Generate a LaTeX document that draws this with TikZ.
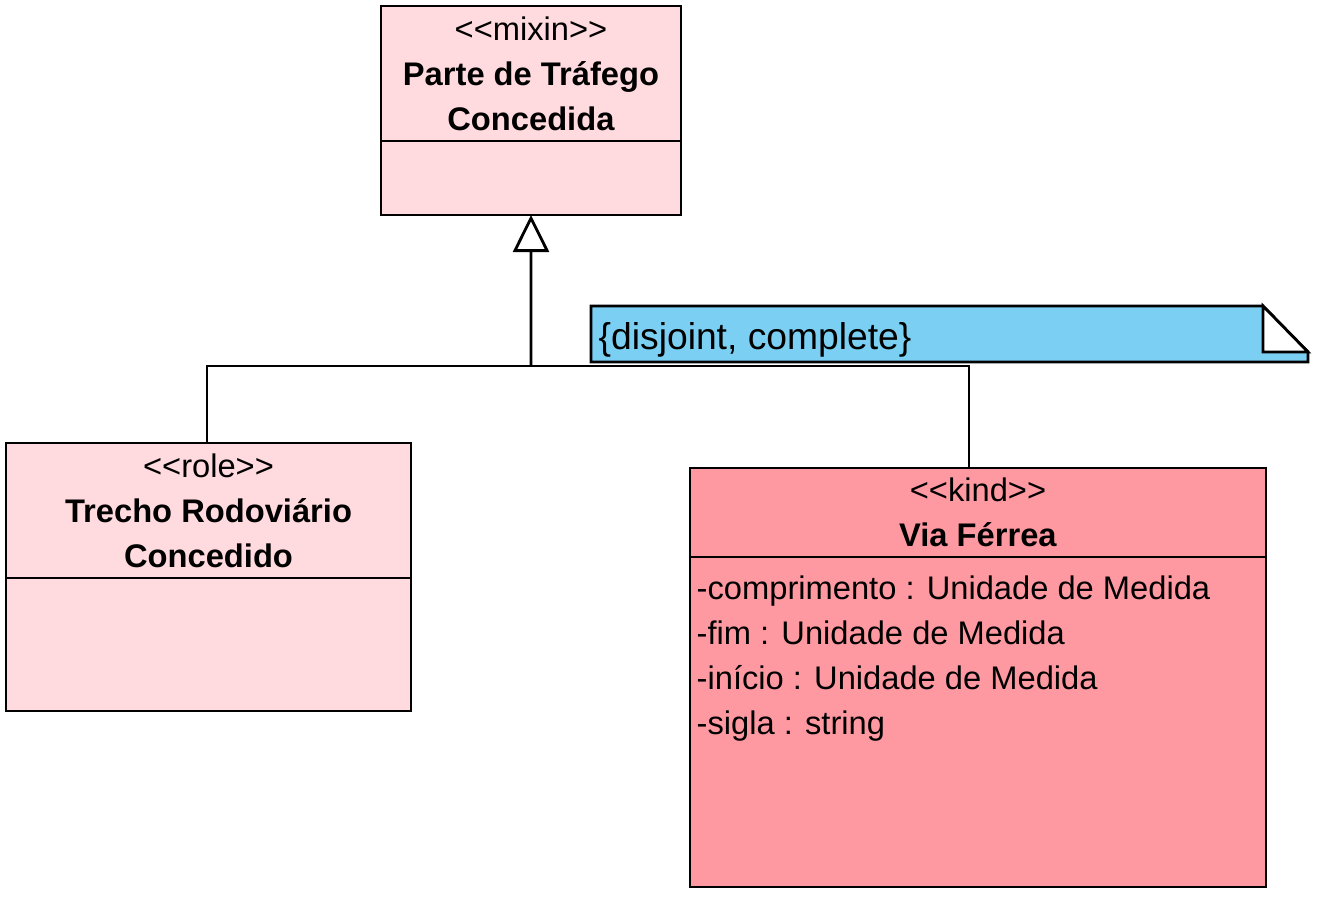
\documentclass[tikz,border=0pt]{standalone}
\usepackage{fontspec}
\setmainfont{Liberation Sans}
\usepackage{tikz}
\usetikzlibrary{positioning}
\usetikzlibrary{arrows.meta}
\definecolor{PinkC}{RGB}{255,218,222}
\definecolor{RedC}{RGB}{255,153,161}
\definecolor{BlueN}{RGB}{122,207,242}
\tikzset{
  classhead/.style={draw=black, line width=0.8pt, rectangle, align=center, inner sep=0pt, outer sep=0pt, font=\fontsize{9.3}{12.8}\selectfont},
  classbody/.style={draw=black, line width=0.8pt, rectangle, inner sep=0pt, outer sep=0pt},
  attrs/.style={align=left, inner sep=0pt, font=\fontsize{9.3}{12.8}\selectfont},
  gen/.style={-{Triangle[open,length=0.37cm,width=0.36cm]}, line width=0.8pt},
  link/.style={line width=0.8pt}
}

\begin{document}
\begin{tikzpicture}
        \useasboundingbox (0,0) rectangle (13.23,-9);
        % class boxes
        \node[classhead, fill=PinkC, minimum width=3cm, minimum height=1.35cm, anchor=north west] (ParteH) at (3.81,-0.06) {<{}<mixin>{}>\\ \textbf{Parte de Tráfego}\\ \textbf{Concedida}};
        \node[classbody, fill=PinkC, minimum width=3cm, minimum height=0.74cm, below=0pt of ParteH] (ParteB) {};
        \node[classhead, fill=PinkC, minimum width=4.05cm, minimum height=1.35cm, anchor=north west] (TrechoH) at (0.06,-4.43) {<{}<role>{}>\\ \textbf{Trecho Rodoviário}\\ \textbf{Concedido}};
        \node[classbody, fill=PinkC, minimum width=4.05cm, minimum height=1.33cm, below=0pt of TrechoH] (TrechoB) {};
        \node[classhead, fill=RedC, minimum width=5.76cm, minimum height=0.89cm, anchor=north west] (ViaH) at (6.90,-4.68) {<{}<kind>{}>\\ \textbf{Via Férrea}};
        \node[classbody, fill=RedC, minimum width=5.76cm, minimum height=3.30cm, below=0pt of ViaH] (ViaB) {};
        \node[attrs, anchor=north west] (ViaA) at ([xshift=0.06cm, yshift=-0.18cm]ViaB.north west) {-comprimento : Unidade de Medida\\ -fim : Unidade de Medida\\ -início : Unidade de Medida\\ -sigla : string};

        % edges
        \coordinate (join) at (5.31,-3.66);
        \draw[link] ([xshift=-0.015cm]TrechoH.north) |- (join);
        \draw[link] ([xshift=-0.09cm]ViaH.north) |- (join);
        \draw[gen] (join) -- (ParteB.south);

        % note
        \node[inner sep=0pt, outer sep=0pt, minimum width=7.17cm, minimum height=0.56cm, anchor=north west] (restr) at (5.91,-3.06) {};
        \draw[link, fill=BlueN] (restr.north west) -- ([xshift=-0.45cm]restr.north east) -- ([yshift=-0.46cm]restr.north east) -- (restr.south east) -- (restr.south west) -- cycle;
        \draw[link, fill=white] ([xshift=-0.45cm]restr.north east) -- ([xshift=-0.45cm, yshift=-0.46cm]restr.north east) -- ([yshift=-0.46cm]restr.north east) -- cycle;
        \node[inner sep=0pt, anchor=west, font=\fontsize{10.6}{12}\selectfont] (restrL) at ([xshift=0.07cm, yshift=-0.06cm]restr.west) {\{disjoint, complete\}};
\end{tikzpicture}
\end{document}
